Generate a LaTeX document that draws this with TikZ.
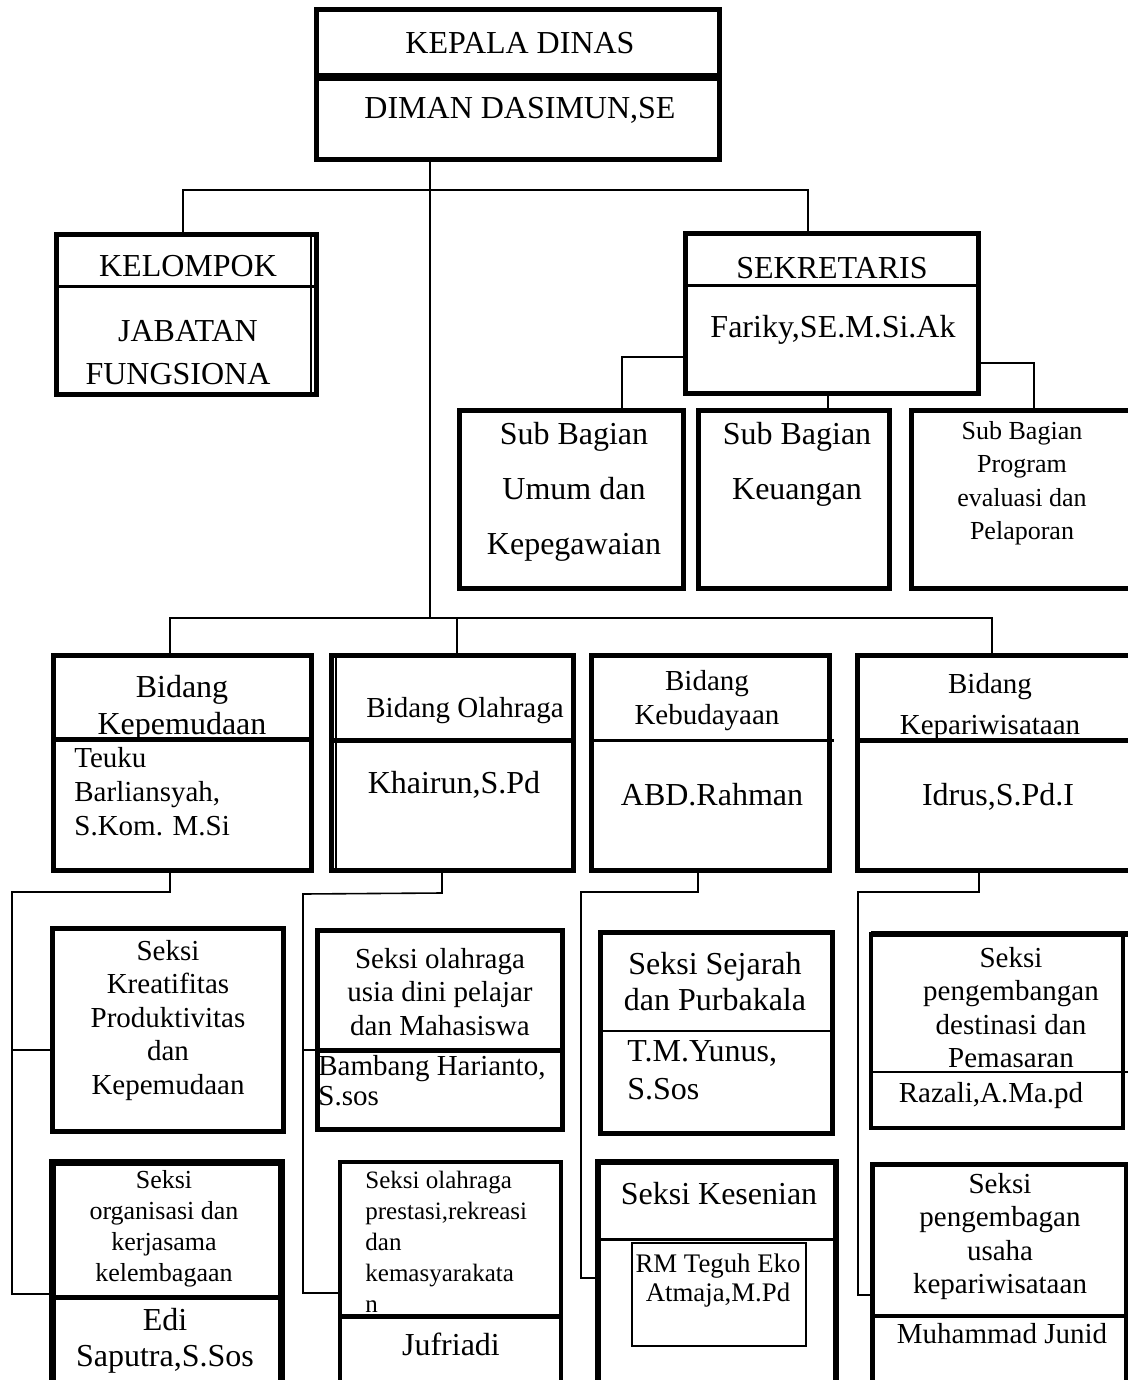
\documentclass[tikz,border=0pt]{standalone}
\usepackage{fontspec}
\setmainfont{Liberation Serif}
\usetikzlibrary{fit}
\newcommand{\sz}[2]{\fontsize{#1}{#2}\selectfont}
\tikzset{
  box/.style={draw, line width=2.5pt, inner sep=0pt},
  wire/.style={line width=0.8pt},
  lbl/.style={inner sep=0pt, align=center, anchor=north},
  lbll/.style={inner sep=0pt, align=left, anchor=north west},
  big/.style={font=\sz{16}{18}},
  mid/.style={font=\sz{14.5}{16.7}},
}
\begin{document}
\begin{tikzpicture}[x=0.5pt, y=-0.5pt]
  \useasboundingbox (0,0) rectangle (1128,1380);
  \clip (0,0) rectangle (1128,1380);
  \fill[white] (0,0) rectangle (1128,1380);

  % Kepala dinas
  \node[box, fit={(316,10) (719,160)}] (kadis) {};
  \draw[line width=4pt] (316,77) -- (719,77);
  \node[lbl, big] (kadisT) at (520,32) {KEPALA DINAS};
  \node[lbl, big] (kadisN) at (520,97) {DIMAN DASIMUN,SE};

  % Kelompok jabatan fungsional
  \node[box, fit={(56,235) (316,394)}] (kel) {};
  \draw[line width=1.5pt] (56,286) -- (316,286);
  \draw[wire] (311,235) -- (311,394);
  \node[lbl, big] (kelT) at (188,255) {KELOMPOK};
  \node[lbl, big] (kelN) at (188,320) {JABATAN};
  \node[lbl, big] (kelM) at (178,363) {FUNGSIONA};

  % Sekretaris
  \node[box, fit={(685,234) (978,393)}] (sek) {};
  \draw[line width=1.5pt] (685,285) -- (978,285);
  \node[lbl, big] (sekT) at (832,257) {SEKRETARIS};
  \node[lbl, big] (sekN) at (833,315) {Fariky,SE.M.Si.Ak};

  % Sub bagian
  \node[box, fit={(459,410) (683,588)}] (umum) {};
  \node[box, fit={(698,410) (889,588)}] (keu) {};
  \node[box, fit={(911,410) (1140,588)}] (prog) {};
  \node[lbl, font=\sz{16}{27.5}] (umumT) at (574,422) {Sub Bagian\\Umum dan\\Kepegawaian};
  \node[lbl, font=\sz{16}{27.5}] (keuT) at (797,422) {Sub Bagian\\Keuangan};
  \node[lbl, font=\sz{13}{16.7}] (progT) at (1022,421) {Sub Bagian\\Program\\evaluasi dan\\Pelaporan};

  % Bidang
  \node[box, fit={(53,655) (311,870)}] (bp) {};
  \draw[line width=2.5pt] (53,739) -- (311,739);
  \node[box, fit={(331,655) (573,870)}] (bo) {};
  \draw[line width=2.5pt] (331,740) -- (573,740);
  \draw[wire] (336,655) -- (336,870);
  \node[box, fit={(591,655) (829,870)}] (bk) {};
  \draw[line width=1.5pt] (591,740) -- (834,740);
  \node[box, fit={(857,655) (1140,870)}] (bw) {};
  \draw[line width=2.5pt] (857,740) -- (1140,740);

  \node[lbl, font=\sz{16}{18.5}] (bpT) at (182,675) {Bidang\\Kepemudaan};
  \node[lbll, font=\sz{14.5}{17}] (bpN) at (74,747) {Teuku\\Barliansyah,\\S.Kom. M.Si};
  \node[lbl, mid] (boT) at (465,697) {Bidang Olahraga};
  \node[lbl, big] (boN) at (454,771) {Khairun,S.Pd};
  \node[lbl, font=\sz{14.5}{17}] (bkT) at (707,670) {Bidang\\Kebudayaan};
  \node[lbl, big] (bkN) at (712,783) {ABD.Rahman};
  \node[lbl, font=\sz{14.5}{20.5}] (bwT) at (990,673) {Bidang\\Kepariwisataan};
  \node[lbl, big] (bwN) at (998,783) {Idrus,S.Pd.I};

  % Seksi, baris pertama
  \node[box, fit={(52,928) (283,1131)}] (s1) {};
  \node[lbl, mid] (s1T) at (168,940) {Seksi\\Kreatifitas\\Produktivitas\\dan\\Kepemudaan};

  \node[box, fit={(317,930) (562,1129)}] (s2) {};
  \draw[line width=2.5pt] (317,1050) -- (562,1050);
  \node[lbl, mid] (s2T) at (440,948) {Seksi olahraga\\usia dini pelajar\\dan Mahasiswa};
  \node[lbll, font=\sz{14.5}{15}] (s2N) at (318,1055) {Bambang Harianto,\\S.sos};

  \node[box, fit={(600,932) (832,1133)}] (s3) {};
  \draw[line width=1.2pt] (600,1031) -- (832,1031);
  \node[lbl, font=\sz{16}{18}] (s3T) at (715,952) {Seksi Sejarah\\dan Purbakala};
  \node[lbll, font=\sz{16}{19}] (s3N) at (627,1040) {T.M.Yunus,\\S.Sos};

  \node[box, line width=1.8pt, fit={(871,934) (1123,1128)}] (s4) {};
  \draw[line width=3pt] (871,934) -- (1128,934);
  \draw[line width=1.2pt] (871,1072) -- (1128,1072);
  \node[lbl, mid] (s4T) at (1011,947) {Seksi\\pengembangan\\destinasi dan\\Pemasaran};
  \node[lbl, mid] (s4N) at (991,1082) {Razali,A.Ma.pd};

  % Seksi, baris kedua
  \node[box, line width=3.5pt, fit={(52,1162) (281,1400)}] (s5) {};
  \draw[line width=2.5pt] (52,1297) -- (281,1297);
  \node[lbl, font=\sz{13}{15.5}] (s5T) at (164,1170) {Seksi\\organisasi dan\\kerjasama\\kelembagaan};
  \node[lbl, font=\sz{16}{18}] (s5N) at (165,1308) {Edi\\Saputra,S.Sos};

  \node[box, line width=2pt, fit={(340,1162) (561,1400)}] (s6) {};
  \draw[line width=2.5pt] (340,1316) -- (561,1316);
  \node[lbll, font=\sz{12.5}{15.5}] (s6T) at (365,1171) {Seksi olahraga\\prestasi,rekreasi\\dan\\kemasyarakata\\n};
  \node[lbl, big] (s6N) at (451,1333) {Jufriadi};

  \node[box, line width=2.8pt, fit={(598,1162) (836,1400)}] (s7) {};
  \draw[line width=1.5pt] (598,1239) -- (836,1239);
  \node[lbl, big] (s7T) at (719,1182) {Seksi Kesenian};
  \node[draw, line width=1pt, inner sep=0pt, fit={(632,1243) (806,1346)}] (s7box) {};
  \node[lbl, font=\sz{13.4}{14.75}] (s7N) at (718,1253) {RM Teguh Eko\\Atmaja,M.Pd};

  \node[box, fit={(872,1164) (1126,1400)}] (s8) {};
  \draw[line width=2pt] (872,1316) -- (1126,1316);
  \node[lbl, mid] (s8T) at (1000,1173) {Seksi\\pengembagan\\usaha\\kepariwisataan};
  \node[lbl, mid] (s8N) at (1002,1323) {Muhammad Junid};

  % Garis dari kepala dinas
  \coordinate (kl) at (183,190);
  \coordinate (kd) at (430,190);
  \coordinate (sk) at (808,190);
  \coordinate (bb) at (430,618);
  \draw[wire] (kadis.south -| kd) -- (bb);
  \draw[wire] (kl |- kel.north) -- (kl) -- (sk) -- (sk |- sek.north);

  % Garis dari sekretaris
  \coordinate (su) at (622,357);
  \coordinate (sq) at (828,400);
  \coordinate (sp) at (1034,363);
  \draw[wire] (sek.west |- su) -- (su) -- (su |- umum.north);
  \draw[wire] (sek.south -| sq) -- (sq |- keu.north);
  \draw[wire] (sek.east |- sp) -- (sp) -- (sp |- prog.north);

  % Garis ke bidang
  \coordinate (b1) at (170,618);
  \coordinate (b2) at (457,618);
  \coordinate (b4) at (992,618);
  \draw[wire] (b1 |- bp.north) -- (b1) -- (b4) -- (b4 |- bw.north);
  \draw[wire] (b2) -- (b2 |- bo.north);

  % Garis ke seksi
  \coordinate (p1) at (170,892);
  \coordinate (p2) at (12,892);
  \coordinate (p3) at (12,1050);
  \coordinate (p4) at (12,1294);
  \draw[wire] (bp.south -| p1) -- (p1) -- (p2) -- (p4) -- (p4 -| s5.west);
  \draw[wire] (p3) -- (p3 -| s1.west);

  \coordinate (q1) at (442,893);
  \coordinate (q2) at (303,894);
  \coordinate (q3) at (303,1050);
  \coordinate (q4) at (303,1293);
  \draw[wire] (bo.south -| q1) -- (q1) -- (q2) -- (q4) -- (q4 -| s6.west);
  \draw[wire] (q3) -- (q3 -| s2.west);

  \coordinate (r1) at (698,892);
  \coordinate (r2) at (581,892);
  \coordinate (r3) at (581,1278);
  \draw[wire] (bk.south -| r1) -- (r1) -- (r2) -- (r3) -- (r3 -| s7.west);

  \coordinate (w1) at (979,892);
  \coordinate (w2) at (858,892);
  \coordinate (w3) at (858,1295);
  \draw[wire] (bw.south -| w1) -- (w1) -- (w2) -- (w3) -- (w3 -| s8.west);
\end{tikzpicture}
\end{document}
